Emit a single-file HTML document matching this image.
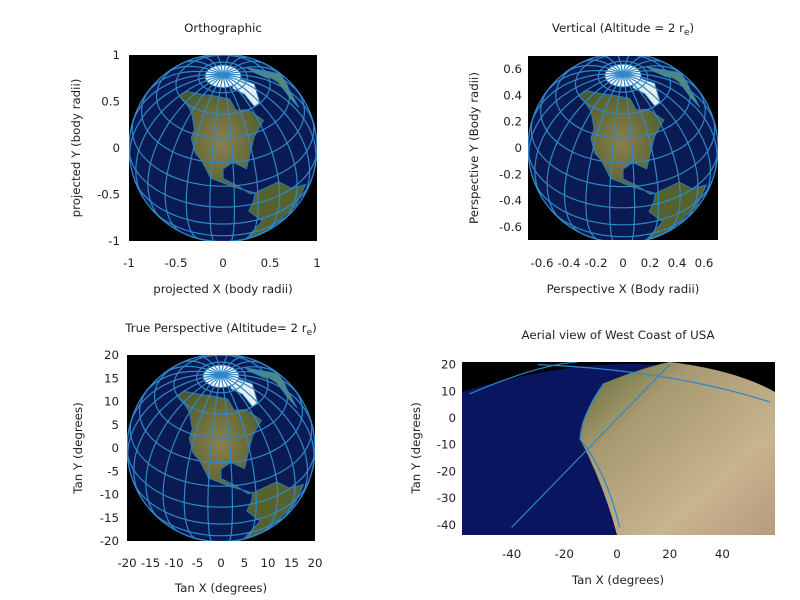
<!DOCTYPE html>
<html><head><meta charset="utf-8">
<style>
body{margin:0;background:#fff;}
svg{display:block;font-family:"DejaVu Sans","Liberation Sans",sans-serif;font-size:11.8px;fill:#222;}
</style></head><body>
<svg id="c" width="800" height="600" xmlns="http://www.w3.org/2000/svg">
<defs>
<clipPath id="cp1"><rect x="129" y="55" width="188" height="186"/></clipPath>
<clipPath id="cp2"><rect x="528" y="56" width="190" height="184"/></clipPath>
<clipPath id="cp3"><rect x="127" y="355" width="188" height="186"/></clipPath>
<clipPath id="cp4"><rect x="462" y="362" width="313" height="173"/></clipPath>
<radialGradient id="land" cx="0.5" cy="0.5" r="0.6"><stop offset="0" stop-color="#8a8050"/><stop offset="1" stop-color="#4d5a28"/></radialGradient>
<linearGradient id="aer" x1="0" y1="0" x2="1" y2="1"><stop offset="0" stop-color="#5e6a35"/><stop offset="0.3" stop-color="#a89a72"/><stop offset="0.7" stop-color="#c8b48e"/><stop offset="1" stop-color="#b89a80"/></linearGradient>
</defs>
<g id="g"></g>
</svg>
<script>
const NS="http://www.w3.org/2000/svg";
const root=document.getElementById('g');
function mk(tag,attrs,parent,text){const e=document.createElementNS(NS,tag);for(const k in attrs)e.setAttribute(k,attrs[k]);if(text!==undefined)e.textContent=text;(parent||root).appendChild(e);return e;}

// Data arrays
const tlXTicks=[-1,-0.5,0,0.5,1];
const tlYTicks=[1,0.5,0,-0.5,-1];
const trTicks=[-0.6,-0.4,-0.2,0,0.2,0.4,0.6];
const blTicks=[-20,-15,-10,-5,0,5,10,15,20];
const brXTicks=[-40,-20,0,20,40];
const brYTicks=[20,10,0,-10,-20,-30,-40];
const northAmerica=[[-165,65],[-140,70],[-110,72],[-85,70],[-80,62],[-65,60],[-55,50],[-70,43],[-76,35],[-81,25],[-90,30],[-97,26],[-97,20],[-88,15],[-80,8],[-77,8],[-85,12],[-92,15],[-105,20],[-112,30],[-118,34],[-124,42],[-124,48],[-135,57],[-150,60],[-165,60]];
const southAmerica=[[-77,8],[-60,10],[-50,0],[-35,-7],[-40,-22],[-58,-38],[-68,-55],[-75,-50],[-71,-18],[-81,-5],[-78,2]];
const greenland=[[-55,60],[-45,60],[-20,70],[-20,80],[-40,83],[-60,80],[-70,77],[-55,70]];
const europe=[[-10,36],[-9,44],[-5,48],[-2,50],[5,53],[8,58],[5,62],[15,70],[30,72],[30,40],[-10,36]];
const arctic=[];for(let l=-180;l<=180;l+=10)arctic.push([l,79]);
const lon0=-97,lat0=39;

function proj(lon,lat){const r=Math.PI/180;const l=(lon-lon0)*r,p=lat*r,p0=lat0*r;
const x=Math.cos(p)*Math.sin(l);const y=Math.cos(p0)*Math.sin(p)-Math.sin(p0)*Math.cos(p)*Math.cos(l);
const c=Math.sin(p0)*Math.sin(p)+Math.cos(p0)*Math.cos(p)*Math.cos(l);return [x,y,c];}

function globe(name,cx,cy,R,clip){
 const g=mk('g',{'clip-path':'url(#'+clip+')'});
 
 
 mk('rect',{x:cx-R-2,y:cy-R-2,width:2*R+4,height:2*R+4,fill:'#000'},g);
 mk('circle',{cx:cx,cy:cy,r:R,fill:'#0a1a52'},g);
 const poly=(pts,fill,nm)=>{let d='';pts.forEach(p=>{const q=proj(p[0],p[1]);let x=q[0],y=q[1];if(q[2]<0){const n=Math.hypot(x,y)||1;x/=n;y/=n;}d+=(d?'L':'M')+(cx+R*x).toFixed(1)+','+(cy-R*y).toFixed(1);});
  const e=mk('path',{d:d+'Z',fill:fill,stroke:'#2a7ab8','stroke-width':1},g);};
 poly(northAmerica,'url(#land)','north-america');
 poly(southAmerica,'#56622c','south-america');
 poly(greenland,'#e8eef0','greenland');
 poly(europe,'#5a8a60','europe');
 poly(arctic,'#ffffff','arctic-ice');
 const line=(pts)=>{let d='',pen=false;pts.forEach(p=>{const q=proj(p[0],p[1]);if(q[2]<0){pen=false;return;}d+=(pen?'L':'M')+(cx+R*q[0]).toFixed(1)+','+(cy-R*q[1]).toFixed(1);pen=true;});
  if(d){const e=mk('path',{d:d,fill:'none',stroke:'#2f88c8','stroke-width':1.2},g);}};
 for(let lo=-180;lo<180;lo+=15){const pts=[];for(let la=-90;la<=90;la+=3)pts.push([lo,la]);line(pts);}
 for(let la=-75;la<=75;la+=15){const pts=[];for(let lo=-180;lo<=180;lo+=3)pts.push([lo,la]);line(pts);}
 mk('circle',{cx:cx,cy:cy,r:R,fill:'none',stroke:'#2f88c8','stroke-width':1.2},g);
}

function txt(x,y,s,anchor,name,rot){const a={x:x,y:y,'text-anchor':anchor||'middle'};if(rot)a.transform='rotate(-90 '+x+' '+y+')';const e=mk('text',a,root,s);return e;}

// Panel TL
globe('orthographic-globe',223,148,94,'cp1');
const sx1=v=>223+v*94, sy1=v=>148-v*93;
tlXTicks.forEach(v=>txt(sx1(v),267,String(v),'middle','x-tick-label'));
tlYTicks.forEach(v=>txt(120,sy1(v)+4,String(v),'end','y-tick-label'));
txt(223,32,'Orthographic','middle','chart-title');
txt(223,293,'projected X (body radii)','middle','x-axis-title');
txt(80,148,'projected Y (body radii)','middle','y-axis-title',true);

// Panel TR
globe('vertical-perspective-globe',623,148,95,'cp2');
const sx2=v=>623+v*135, sy2=v=>148-v*131.7;
trTicks.forEach(v=>txt(sx2(v),267,String(v),'middle','x-tick-label'));
trTicks.forEach(v=>txt(522,sy2(v)+4,String(v),'end','y-tick-label'));
const t2=txt(623,32,'Vertical (Altitude = 2 r','middle','chart-title');mk('tspan',{dy:3,'font-size':9},t2,'e');mk('tspan',{dy:-3},t2,')');
txt(623,293,'Perspective X (Body radii)','middle','x-axis-title');
txt(478,148,'Perspective Y (Body radii)','middle','y-axis-title',true);

// Panel BL
globe('true-perspective-globe',221,448,94,'cp3');
const sx3=v=>221+v*4.7, sy3=v=>448-v*4.65;
blTicks.forEach(v=>txt(sx3(v),567,String(v),'middle','x-tick-label'));
blTicks.forEach(v=>txt(119,sy3(v)+4,String(v),'end','y-tick-label'));
const t3=txt(221,332,'True Perspective (Altitude= 2 r','middle','chart-title');mk('tspan',{dy:3,'font-size':9},t3,'e');mk('tspan',{dy:-3},t3,')');
txt(221,592,'Tan X (degrees)','middle','x-axis-title');
txt(82,448,'Tan Y (degrees)','middle','y-axis-title',true);

// Panel BR aerial
const sx4=v=>617+v*2.635, sy4=v=>418-v*2.67;
const ga=mk('g',{'clip-path':'url(#cp4)'});
mk('rect',{x:462,y:362,width:313,height:173,fill:'#000'},ga);
mk('path',{d:`M462,392 Q560,362 640,364 Q720,368 775,392 L775,535 L462,535Z`,fill:'#0a1560'},ga);
mk('path',{d:`M${sx4(-5)},${sy4(13)} Q${sx4(10)},${sy4(19)} ${sx4(20)},${sy4(21)} Q${sx4(45)},${sy4(18)} 775,392 L775,535 L${sx4(0)},535 Q${sx4(-5)},${sy4(-25)} ${sx4(-14)},${sy4(-8)} Q${sx4(-12)},${sy4(5)} ${sx4(-5)},${sy4(13)}Z`,fill:'url(#aer)'},ga);
const bl=(d)=>{const e=mk('path',{d:d,fill:'none',stroke:'#2a88c8','stroke-width':1.2},ga);};
bl(`M${sx4(-56)},${sy4(9)} Q${sx4(-30)},${sy4(20)} ${sx4(-15)},${sy4(21)}`);
bl(`M${sx4(-40)},${sy4(-41)} L${sx4(20)},${sy4(20)}`);
bl(`M${sx4(-30)},${sy4(20)} Q${sx4(20)},${sy4(18)} ${sx4(58)},${sy4(6)}`);
bl(`M${sx4(-5)},${sy4(13)} Q${sx4(-14)},${sy4(0)} ${sx4(-14)},${sy4(-8)} Q${sx4(-4)},${sy4(-20)} ${sx4(1)},${sy4(-41)}`);
brXTicks.forEach(v=>txt(sx4(v),558,String(v),'middle','x-tick-label'));
brYTicks.forEach(v=>txt(456,sy4(v)+4,String(v),'end','y-tick-label'));
txt(618,339,'Aerial view of West Coast of USA','middle','chart-title');
txt(618,584,'Tan X (degrees)','middle','x-axis-title');
txt(420,448,'Tan Y (degrees)','middle','y-axis-title',true);
</script>
</body></html>
